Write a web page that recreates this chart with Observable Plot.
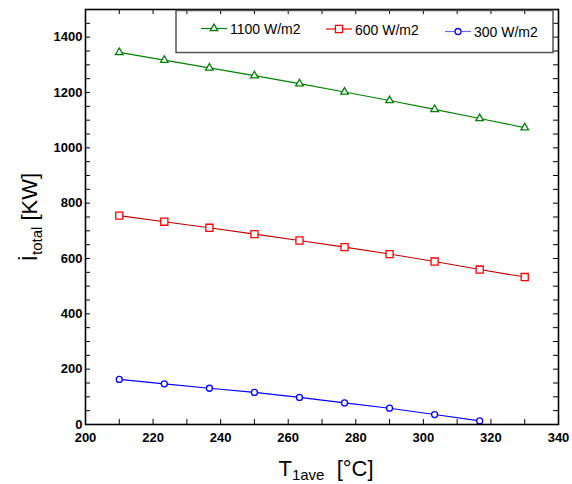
<!DOCTYPE html>
<html><head><meta charset="utf-8">
<script src="https://cdn.jsdelivr.net/npm/d3@7"></script>
<script src="https://cdn.jsdelivr.net/npm/@observablehq/plot@0.6"></script>
<style>body{margin:0;background:#fff;font-family:"Liberation Sans",Arial,sans-serif}</style>
</head><body><div id="chart"></div>
<script>
const temps = [210, 223.33, 236.67, 250, 263.33, 276.67, 290, 303.33, 316.67, 330];
const irr1100 = [1345, 1317, 1289, 1261, 1232, 1202, 1171, 1139, 1106, 1073];
const irr600 = [755, 733, 711, 688, 665, 641, 616, 589, 560, 533];
const irr300 = [163, 147, 131, 116, 98, 78, 59, 36, 13];
const seriesNames = ["1100 W/m2", "600 W/m2", "300 W/m2"];
const xTicks = [200, 220, 240, 260, 280, 300, 320, 340];
const yTicks = [0, 200, 400, 600, 800, 1000, 1200, 1400];
const xMinor = d3.range(200, 341, 10);
const yMinor = d3.range(0, 1501, 50);

const colors = ["#008000", "#ff0000", "#0000ff"];
const lineColors = ["#008000", "#c00000", "#0000ff"];
const legendLineColors = ["#008000", "#ff0000", "#6666ff"];
const symbols = ["triangle", "square", "circle"];
const radii = [2.8, 4, 3];

const series = [irr1100, irr600, irr300];
const data = series.flatMap((vals, i) => vals.map((v, j) => ({name: seriesNames[i], s: i, x: temps[j], y: v})));

const W = 572, H = 484, mt = 9, mb = 60, ml = 85, mr = 14;
const iw = W - ml - mr, ih = H - mt - mb;
const tl = 5;

const marks = [];
series.forEach((vals, i) => {
  const d = data.filter(r => r.s === i);
  marks.push(Plot.line(d, {x: "x", y: "y", stroke: lineColors[i], strokeWidth: 1.1}));
  marks.push(Plot.dot(d, {x: "x", y: "y", symbol: symbols[i], r: radii[i], stroke: colors[i], fill: "white", strokeWidth: 1.3}));
});

const chart = Plot.plot({
  width: W, height: H,
  marginTop: mt, marginBottom: mb, marginLeft: ml, marginRight: mr,
  style: {fontFamily: "'Liberation Sans', Arial, sans-serif", fontSize: "13px", color: "black", background: "white"},
  x: {domain: [200, 340]},
  y: {domain: [0, 1500]},
  marks: [
    Plot.tickX(xMinor, {x: d => d, insetTop: ih - tl, stroke: "black"}),
    Plot.tickX(xMinor, {x: d => d, insetBottom: ih - tl, stroke: "black"}),
    Plot.tickY(yMinor, {y: d => d, insetRight: iw - tl, stroke: "black"}),
    Plot.tickY(yMinor, {y: d => d, insetLeft: iw - tl, stroke: "black"}),
    Plot.axisX({ticks: xTicks, tickSize: 0, tickPadding: 8, tickFormat: d => String(d), fontWeight: "bold", fontSize: 13, label: null}),
    Plot.axisY({ticks: yTicks, tickSize: 0, tickPadding: 3, tickFormat: d => String(d), fontWeight: "bold", fontSize: 13, label: null}),
    ...marks,
    Plot.frame({stroke: "black", strokeWidth: 1.6})
  ]
});

const svg = d3.select(chart);

// y-axis title
const yt = svg.append("text")
  .attr("transform", "translate(37,217) rotate(-90)")
  .attr("text-anchor", "middle")
  .attr("font-size", 22).attr("fill", "black");
yt.append("tspan").text("İ");
yt.append("tspan").attr("font-size", 15).attr("dy", 5).text("total");
yt.append("tspan").attr("dy", -5).text("\u00a0[KW]");

// x-axis title
const xt = svg.append("text")
  .attr("x", 326).attr("y", 476)
  .attr("text-anchor", "middle")
  .attr("font-size", 22).attr("fill", "black");
xt.append("tspan").text("T");
xt.append("tspan").attr("font-size", 15).attr("dy", 4).text("1ave");
xt.append("tspan").attr("dy", -4).text("\u00a0\u00a0[°C]");

// legend
const lg = svg.append("g").attr("text-anchor", "start");
lg.append("rect").attr("x", 176).attr("y", 10.5).attr("width", 377).attr("height", 42)
  .attr("fill", "none").attr("stroke", "#555").attr("stroke-width", 1.5);
const legendX = [201, 326, 445];
const legendY = [28.5, 29, 31.5];
const d3sym = {triangle: d3.symbolTriangle, square: d3.symbolSquare, circle: d3.symbolCircle};
seriesNames.forEach((name, i) => {
  const x0 = legendX[i], y0 = legendY[i];
  lg.append("line").attr("x1", x0).attr("x2", x0 + 26).attr("y1", y0).attr("y2", y0)
    .attr("stroke", legendLineColors[i]).attr("stroke-width", 1.2);
  lg.append("path").attr("d", d3.symbol(d3sym[symbols[i]], Math.PI * radii[i] * radii[i])())
    .attr("transform", `translate(${x0 + 13},${y0})`)
    .attr("fill", "white").attr("stroke", colors[i]).attr("stroke-width", 1.3);
  lg.append("text").attr("x", x0 + 29).attr("y", y0 + 5.5).attr("text-anchor", "start")
    .attr("font-size", 14).attr("fill", "black").text(name);
});

document.getElementById("chart").appendChild(chart);
</script>
</body></html>
